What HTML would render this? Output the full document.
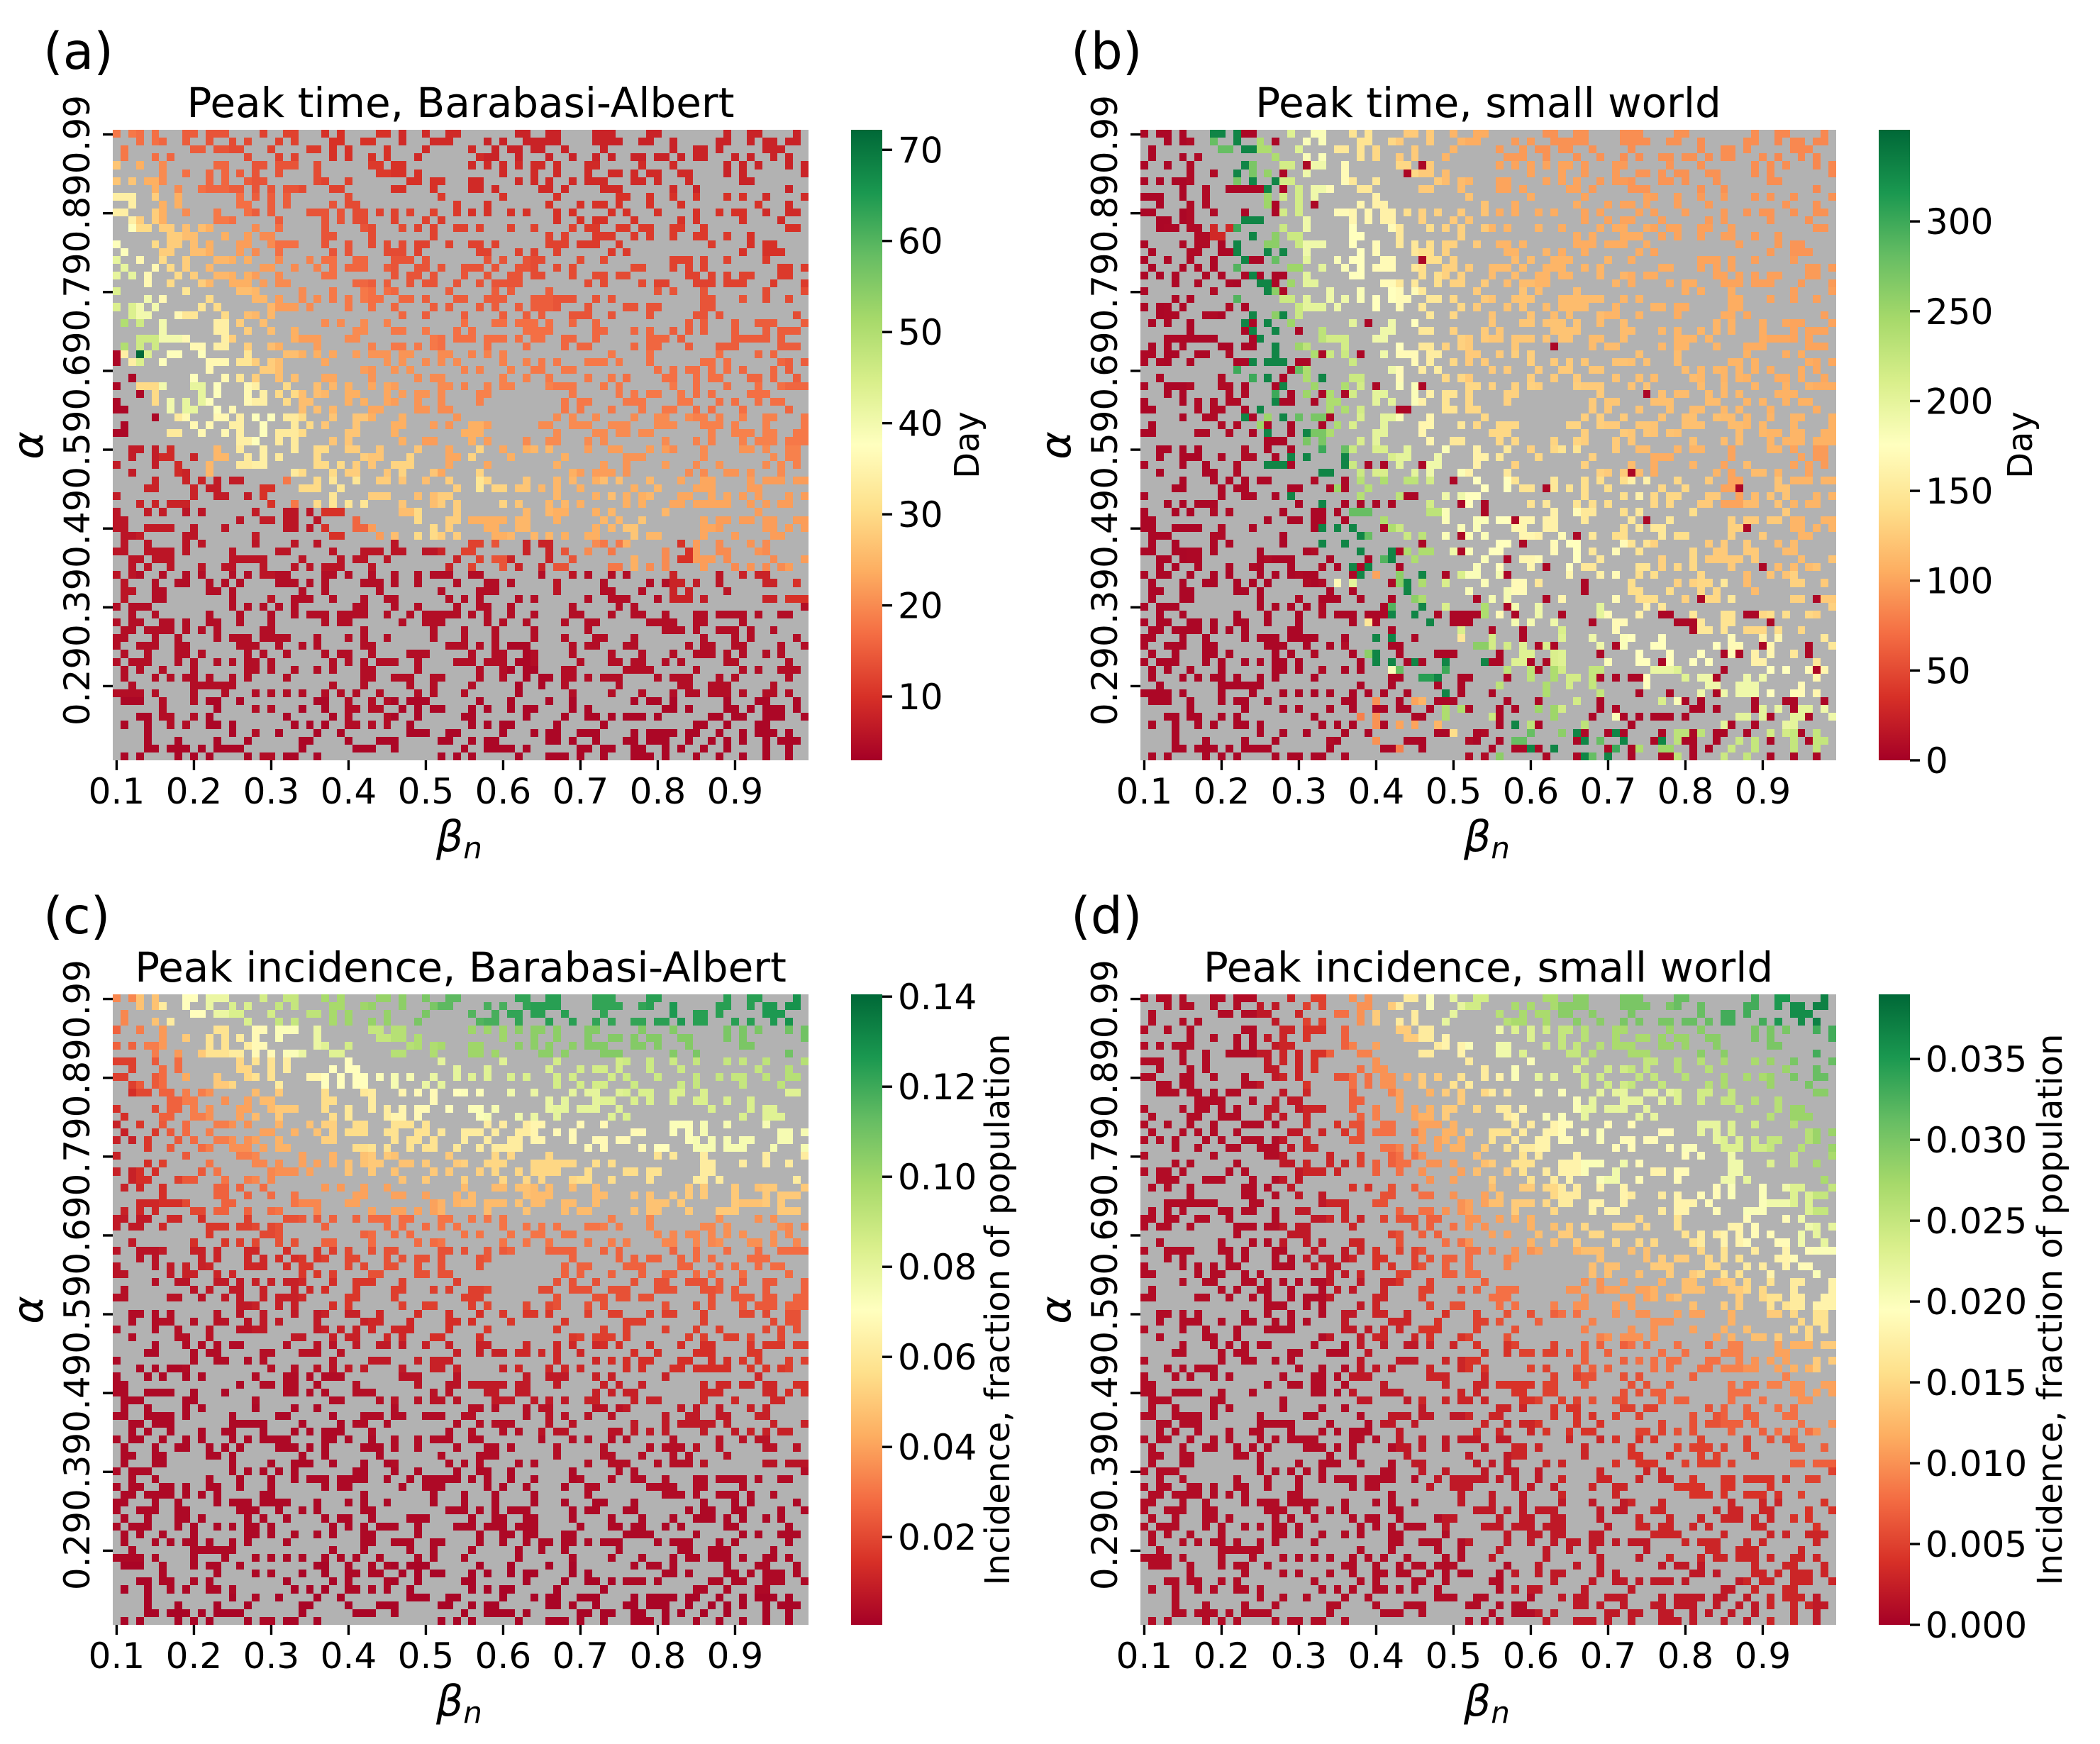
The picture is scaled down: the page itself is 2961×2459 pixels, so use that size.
<!DOCTYPE html>
<html>
<head>
<meta charset="utf-8">
<title>Peak time and peak incidence heatmaps</title>
<style>
html,body{margin:0;padding:0;background:#fff}
svg{display:block}
text{font-family:"DejaVu Sans","Liberation Sans",sans-serif;fill:#000}
</style>
</head>
<body>
<svg id="figure" width="2961" height="2459" viewBox="0 0 2961 2459" xmlns="http://www.w3.org/2000/svg"></svg>
<script>
// Shared grid of simulated parameter pairs: # has a result, . has none (left half | right half)
const resultMask = [
"#.##.#...##.###....#..##...#.#....##.#..#..##|.......##..##....###....##........#..##....#.",
"...#.##..#..#..#.#...#.#....##..##...#...###.|...#.#..#####....####..##..#.....##..#.##.##.",
".#........##.####...#....##.#.#....#....#....|.#..#.##.##..#....#........#..##.#.....###...",
".#...#.#.........#...#.#....#.#..#.#...#.....|..###..#...#..#..#.#..##.##.#.##...#.#..#.#..",
"#..#..#......##...##.###..#......##.##.......|.#.#.#.#.##.#...##.....#...#......#.#.#...#.#",
"......#..#..#.#.#.#..#....#.......####.#.....|.....#...#..#...#..##.#.##..##....#.#.......#",
"#.#.###.....#.#..###......##..#.......##.##..|.##....#.#.#..#.###...##.#...#......##.......",
".....#..#..######.#.#.###...##......##...#...|.##.#.....##.#....###......#..#...........#..",
"###..#..#.......#.#.#.#.......#...........#..|.....#......#.......##..#..#..#...#.#..#....#",
"..#...#.#.......##..#.#.....#.##............#|...#.......#...#.##.#...#...#.........#...#..",
"##...##..#...#...##.#....###.#.##.#.#.#..#..#|.#.#..#.#...#.#....#.#...#....#..#.##..#..##.",
"..##.##......###.....#.....#.#.##...#...#.#..|............#..#.##...#.....#.#.....#....#...",
"..###.##.#.##.....#..#.....#....##...#.#.#..#|#.#...#..#....#.##..##.##..##..#..........##.",
".......####...#..#.##......##....#.......#...|...........#.#...###..#.#..#..##..#..#.......",
"#....#.##.#.#...##..####...#..#..#.#.#.##..#.|.##.#......###.###..#...........#....#.##....",
".#....##..###...#.#..#......#.#....###.#.....|..##...#.#..#......#.#..............#..###...",
"#..#..#..#...###.#...#...#.##..##...###.#....|...#.#..###....#..#........###.#..#....#.....",
".#...#.#.#..#......##..#..#.#.###..##..##.#..|###.#..###..#.#.......##...#.#.#.........##.#",
"#.#.#...#.#..###.##..#.....##.......#.##.#...|#..#..##.##...#..##.##.......##.#.#.##...##..",
"....#..#...##..###.#.##........###.#..#.##..#|..#.####........#.#....#.##...###.###...#...#",
"#........#......###.....#...#...##.##......#.|....#.#....#.............#.#...#.......#....#",
"....#.#.....#.....##.#..#.#.#.#.###..##.#...#|#..###...######..#.#...........##...#..#..#..",
"#.##.#.....#.#......####.#....#..#..#....#.#.|..#.#..#.####...#....##.##.....##............",
"..###...###...#..##.#................#..#....|#....#..#.#...###..#....#.....##.#.........#.",
".#.#..#......##.#..#.......#.#..#..#.........|#...##.###.#..#..#...........#.#...#..###...#",
"......#......##..#..#..#.......##...##..#...#|.#......####.....##...#.#..#.#.#...#...#.###.",
"...#######....##.......####...##.........##.#|##.###.#.##..##..#......###.#......#####.#...",
".#.#.#....##.##..#..##....#......#..##.#.##..|...#....#....#.##.....#.##...#...###.....###.",
"##.##..##..#.....#....###.#.#..#.###.##...##.|.#.#.#.............#....#........#....#.#....",
"#.##..#.....###.###.##.....#.......#.#..#.#.#|.....#..#.#.#...###.#...#......##.#......##.#",
"............#......###..........##..#.#......|#.#...#..##..##..........#.#.##.#.#.#...#.#..",
"..#.......#...#.#.#..#.#...##....#.....#.##..|.....#..#..#....#..#.#....##..#.##...##.#..#.",
"#..####...##.#...##...#...#.#.#..#.##.....##.|#..#.##....####...#.#......#..#...#...#..####",
"...#.#.....#.#...#.#.#.##.##..##...#.#.##.#..|..##..........#.....#.#.##..#.#.#....###.....",
"#....#.#.#.##....###..#.##....#.#..##..#..#..|..#..........#.##....###....##...#.#..#.##...",
"##.....#.##..#.#........#.#.#....##....##.##.|.............#.#...#...#..##..#.#...#.....#..",
".....#..##...##.#.#.#.###...#..###...#......#|............#.#..#....#..##..###.#..#..##...#",
".#........#.#..##..#...#.#.#...#....##...#.#.|.###......##..###..###...###...###.#...#....#",
"##.....##..#..#.#..#.####.....##....#........|###.........#....##.##.##.......#..###.##..##",
"................###..#.#....#.#......#..##...|.#.#....#..##...#.#.......#...#.#...#.###.###",
"..##.#.#.....#..#..#...#..##..##..#....#...#.|..#..#..##.#....#..##...#.##...#....##.#..##.",
"..#..###..#..##..#.#.#....#.....###...#....##|.#....#......#.......###.......#........#.##.",
"#....#..#...#...####......##.#.#.#..###....#.|...#........#.....#..#....#...#..#.....#.#.#.",
"..#.....##..#..........##...#.##...#.#...##..|..#...........##.###.#.......#.#..##.#...#...",
".....#...#.#.#.##.....#...#.#..#..##.#..#..#.|..##....#...#.#..##.#...#...#..##....#.###.##",
"....##....#.##.....##...###..#..............#|..#.##.##.#.#..#......#..#....###....##......",
"#.........#..##..#.#........#....###...#.###.|............#....#.#.#.##...##..#.#.#.#...#.#",
"...#.#.###..........#..#..#.#.#.#....#...##.#|.....#.#...#.#.#.....#.#...##.#####..#.#.##..",
"#...#.#..#.#......#...##.#.###.......###....#|........#..###...#.#......#...........#......",
"##..............#..##.##..#....#.......#...##|.#####.##...#.....#.#..#.......#.##.##.##..##",
"##..####..#...#.......##.#.#...###.......#.#.|...##..##........#.#.##........###.....##.#.#",
".###.....##.......#.........##....#.#..#.##.#|....###..#.#.#..##....#.##.....#...#....##...",
".#..#....#.#......#....#..#.........#........|.##.#...#.##.....##.##......#.#..#...#.#.....",
"##..####.#.....#.....##.....#...###.##..###..|##......#..#.#..#..#......#..##..##...##.....",
"..##.###.......#####....#....#.##..#........#|..#.###....#..#.......#...#.#####.#.....#...#",
"..#.#..#...#..##...#...#.#.###...#.........#.|.#...#.#..#.##.....##.#.#.#....#...#.#.#.##..",
"#.##..#..#.#...#.#.####....##.#..#..#..#.###.|.##.......#...#.#..#.#.....#.....#..#.##.....",
".#...#..##..#.#.#....###.#.#....###.#..#....#|...##.#.....#.....#.....#.###.#..#.....##..#.",
".##..##.....##.#........#..#......#.......#..|..###.......#.....##...#...#.#....#..........",
".#...##........#....#..###..#...#..##......#.|#.#....#.#......#..###...#.###.#.......##.###",
"#.###..........#.#.#.#.#.......##...#..#....#|..##..#.......#.....#.#.....................#",
"..#..#......#...#...#..#.###.####..#..#.#####|.#.#..#..#....##...#..##..#...##.####.#..##..",
"#.##..##.#..##..#...#......#.##......#..###..|...#.#..#....#..##......####..##....#........",
".##.####.#.#.#.....##...........#........#...|#...#....#......#.........###.#..###.#..#....",
"##...#..#....#.###.####...#...#.#..#.....#...|#...#....#...#...##...#........#...#.#.....#.",
"#..###..##......###..#..#.#.....##.........##|#.#.#.###.....#.##...##......#.##..##....#..#",
".#..#...##.#.....#.#..#....#.##..#....###....|.#..##..##....#....#...#...#..###.#.#..#.#...",
"#.###...#.#..#.#.##.#.......#.#.#.###..#....#|##.###.###.....#...##.##..#.#.....##......#..",
".#.#..#...#......##.#..#..#.#...##.....#.....|..#..##.##...##......####.....#.....#.#..###.",
".#...#.#.##.#..#.#....#.........##..###..##..|..#..#..#.##.##.#.###....#.###...#.#......#..",
"..#.......######............#...#.....#..#...|.#.....#..#..#......#.......##..###.....#....",
"####.#....#...#...#.#.#.#..#.#.#..#....#.#...|#......#......#....#...#...#.##.###.#..##.#..",
".###..#...#.##..#.........##..#..#.##.###....|..#...#....#..#.......#.##.#......#...##...#.",
"......#......#....#.#...#..#..##.##..#.#.##..|.#.#..#.##....#.#.........##.#....##.#.###.#.",
"...##.##..#.#.........#.....#.#....##..#.....|##......#....#..##.#.###.#......##.##..###..#",
".#..#..#.#..##.#.......#.#.#..##.#.#..#......|.#.#.##.....#.....#...........##..#...##.....",
"....#..........#..#..#....#..#........###..##|.....#...#.##..###....#.####.##..#..#.###.#..",
"....#...#....#...#......##....#...###.....##.|.#.##......##.#..#...##.###..#..#.#.#..#.###.",
"....##.###.#.####.......#......###..#........|#..####.#......##.##..##..#.#..#..#....#..#..",
".#.#....#.#.#....#.##.##..#...............#.#|.#.....#...###.#..#...###.#...#..#..#..#..#.."
];

// Axis tick labels
const alphaTicks = ["0.99","0.89","0.79","0.69","0.59","0.49","0.39","0.29"];
const betaTicks = ["0.1","0.2","0.3","0.4","0.5","0.6","0.7","0.8","0.9"];
const peakTimeBaTicks = [10,20,30,40,50,60,70];
const peakTimeSwTicks = [0,50,100,150,200,250,300];
const incidenceBaTicks = [20,40,60,80,100,120,140];   // per mille of population
const incidenceSwTicks = [0,5,10,15,20,25,30,35];     // per mille of population

// Regional readings, one row per 4 alpha rows, one value per 3 beta columns
// (a) peak time, Barabasi-Albert, days
const peakTimeBa = [
[18,17,16,15,14,13,12,12,11,10,10,10,9,9,9,9,8,8,8,8,8,8,8,8,8,8,8,8,8,8],
[27,24,20,17,16,15,14,14,13,12,12,11,10,10,10,9,9,9,9,9,9,9,9,9,9,8,8,8,8,8],
[34,28,24,20,18,17,15,15,14,14,13,12,12,12,11,10,10,10,10,10,10,10,10,10,10,10,10,10,9,9],
[38,30,28,26,24,22,20,17,15,14,14,13,13,12,12,12,12,12,12,12,11,11,11,11,11,11,11,10,10,10],
[42,36,30,28,25,24,22,20,19,17,16,15,14,14,14,14,14,14,13,13,13,13,13,12,12,12,12,12,11,11],
[44,40,36,32,30,26,25,22,20,18,18,17,16,15,15,15,15,15,15,14,14,14,14,14,14,14,14,14,13,13],
[50,46,40,36,34,28,26,24,22,20,20,19,18,18,17,17,17,17,17,16,16,16,16,16,15,15,15,15,15,15],
[34,44,38,38,36,32,28,26,24,23,22,21,21,20,20,19,19,19,18,18,18,18,17,17,17,17,17,16,16,15],
[40,30,40,42,38,36,34,30,26,25,24,23,22,21,20,19,19,19,19,18,18,18,18,18,18,17,17,17,17,16],
[30,30,33,36,36,34,38,33,30,27,27,24,24,22,21,24,22,20,20,20,20,20,20,20,20,19,19,19,19,18],
[7,7,9,8,25,33,34,33,30,30,28,27,29,27,23,29,23,24,25,24,22,22,21,22,20,20,21,21,20,19],
[7,8,8,8,7,7,10,18,30,32,32,28,27,26,28,32,29,27,25,25,24,26,24,25,23,23,23,22,22,22],
[6,7,7,6,6,6,7,6,6,10,16,22,26,30,28,24,24,25,25,24,24,25,27,25,24,23,22,22,22,22],
[6,6,6,6,6,6,6,6,6,6,6,6,6,6,8,12,14,8,8,14,20,18,24,20,10,22,20,21,20,22],
[6,5,5,5,5,5,6,5,5,5,5,5,5,5,5,5,5,5,5,6,5,5,5,5,8,7,6,8,8,10],
[5,5,5,5,5,5,5,5,5,5,5,5,5,5,5,5,5,5,5,5,5,5,5,5,5,5,5,5,5,5],
[5,5,5,5,5,5,5,5,5,5,5,5,5,5,5,5,5,4,5,5,5,5,5,5,5,5,5,5,5,5],
[5,5,5,5,5,5,5,5,5,5,5,5,5,5,5,5,5,4,4,5,5,5,5,5,5,5,5,5,5,5],
[4,4,5,5,4,4,5,4,4,4,5,5,4,4,4,4,4,4,4,4,4,4,4,4,4,4,4,4,4,4],
[4,4,4,4,4,4,5,4,4,4,4,4,4,4,4,4,4,4,4,4,4,4,4,4,4,4,4,4,4,4]
];
const peakTimeBaLowCells = {28:[0],29:[0],31:[2],32:[0],33:[3],34:[0],35:[0,1],36:[5],37:[1],38:[0,1]};
const peakTimeBaHighCells = {28:[3]};
const peakTimeBaLow = 4;
const peakTimeBaHigh = 72;

// (b) peak time, small world, days
const peakTimeSw = [
[5,5,8,280,270,240,205,180,150,145,135,125,125,110,105,95,95,90,90,90,88,88,90,90,88,88,88,85,85,85],
[5,5,8,8,270,255,215,190,170,150,150,135,125,115,110,100,100,100,100,95,95,92,92,90,90,90,88,88,88,85],
[5,5,8,8,290,250,215,190,170,165,160,140,130,125,120,105,105,105,105,100,100,100,98,98,95,95,92,92,90,90],
[5,6,8,30,300,260,220,190,180,175,170,150,140,130,125,110,110,110,105,105,105,105,100,100,98,98,95,95,92,92],
[5,6,7,6,290,280,250,200,180,175,170,150,140,130,125,115,115,110,110,110,110,105,105,105,100,100,98,98,95,95],
[5,6,6,8,290,260,220,200,190,180,175,170,150,135,125,120,120,115,115,115,110,110,110,105,105,105,102,100,98,98],
[5,6,5,5,300,280,250,230,215,200,190,175,150,130,125,122,122,120,120,115,115,115,112,110,110,108,105,102,100,100],
[6,5,6,8,300,320,280,240,220,220,190,170,155,135,125,125,128,125,125,122,120,118,115,115,112,110,108,105,105,102],
[5,5,8,8,8,300,280,250,240,215,200,180,160,145,135,130,130,128,128,125,122,120,118,115,115,112,110,108,108,105],
[5,5,7,8,8,250,280,270,240,210,200,180,165,150,135,135,135,132,132,128,125,122,120,118,118,115,112,110,110,108],
[5,5,5,6,8,8,300,300,280,220,210,200,190,180,160,150,130,135,145,130,125,115,105,110,110,100,115,110,100,95],
[5,5,5,6,6,6,7,8,250,235,240,230,215,190,175,175,145,150,145,140,140,160,135,135,125,100,115,120,110,110],
[5,5,5,8,6,6,7,8,280,280,240,220,230,180,180,175,165,160,170,150,140,150,150,140,140,130,125,125,110,110],
[5,5,6,6,7,8,8,8,150,300,290,240,240,190,180,175,165,170,175,150,170,145,130,135,125,125,125,115,115,120],
[5,5,5,5,5,6,7,8,170,200,100,260,240,210,180,185,170,150,165,160,170,140,140,130,135,150,115,120,130,125],
[5,5,5,5,5,6,6,8,120,150,290,290,290,210,240,170,185,190,210,200,170,160,150,150,150,145,135,140,135,130],
[5,5,5,5,5,6,6,8,10,260,330,230,280,150,260,215,205,210,205,190,180,175,175,175,175,170,160,165,150,150],
[5,5,5,5,5,5,6,8,10,8,180,280,310,300,8,230,230,240,215,225,195,175,195,205,190,190,190,175,170,165],
[5,5,5,5,5,5,6,8,70,80,90,100,110,240,8,220,230,250,215,230,180,230,210,180,190,200,200,195,200,190],
[5,5,5,5,5,5,6,8,8,8,90,80,8,140,8,260,280,270,260,280,300,240,250,230,230,220,225,215,225,225]
];
const peakTimeSwLowCells = {0:[13,14],1:[17],4:[21,36],5:[18,34],7:[11,12,13,14,15,18],9:[17,22],10:[13,17],14:[10],15:[10,11],16:[14,15,36],18:[13,15,17,18],19:[12,17],20:[18],22:[13],23:[10],24:[14,29],25:[13,20],26:[14],27:[13,14,53],28:[23,28],29:[12,13,20,21],30:[19],31:[18],32:[13,17,30,36],33:[19,23,26,65],34:[18,19,22],35:[13,33,34],36:[14,24],37:[16,19,23],38:[14,19],39:[16,17,18],40:[16,19],41:[17],42:[19,29,31,36],43:[63],44:[26,40],45:[19,20,24,26,52,77],46:[17,34,35],47:[20,26,28,30,32,41,44],48:[18,22,23,25,44],49:[16,19,20,22,23,26,48,65],50:[22,23,31,78],51:[18,28,41,56],52:[18,36,49],53:[15,21,33,41],54:[15,17,18,19,24,29,47],55:[15,19,25,28,33,52,80],56:[15,17,19,21,22,27,39,47],57:[16,22,32,57],58:[15,24,27,57],59:[15,23,24,25,28,32,43,52,72,87],60:[15,17,21,31,47],61:[20,25,26,27,29,30,31,38,40,41,42,43,48,54,67,68,78,79],62:[16,20,27,30,40,41,42,58,69,70,71,81],63:[19,20,32,45,49,71],64:[15,16,17,19,20,21,22,26,35,49],65:[16,17,18,21,24,32,33,51,53,61,80,86],66:[17,19,27,33,38,39,40,46,59,75,77,86],67:[17,18,20,28,34,36,45,46,50,52,67],68:[17,18,20,26,28,51,75,87],69:[15,17,22,32,33,41,42,47,59,61,63,64,74],70:[15,28,32,38,41],71:[18,20,22,24,27,29,31,34,41,45,64,68,74],72:[16,26,27,33,38,39,40,47,51,59,70,72,79,83,84,88],73:[18,24,27,30,31,33,34,37,42,46,48,59,61,71,72,74,79,84],74:[22,35,36,46,58,62,64,66,67,68,70,81,86],75:[15,23,25,27,31,46,51,63,76,79],76:[18,21,26,29,38,39,43,57,60,62,67,71,74,75,78,85],77:[17,25,34,35,36,43,46,56,66,70,71,74,81,86],78:[24,31,32,36,45,48,49,51,60,63,71,73],79:[17,19,20,22,23,26,52,56,63,67,68,71,81,84,87]};
const peakTimeSwHighCells = {0:[9,10,12],1:[12],2:[13,14],4:[13],5:[12],6:[14,17],7:[16],11:[13,14,15],13:[14],14:[12],15:[12,16,18],16:[13],18:[14],19:[15,16],20:[16],23:[14,18],24:[13,16],25:[14,17],26:[15],27:[17],28:[17],29:[14,16,17,18],31:[16,23],32:[18],34:[17],35:[15],36:[13,18],38:[16,21],41:[19,21,26],42:[16,17,18,26],43:[23,24],46:[19],47:[23],50:[23,25,27],51:[28],52:[23,26],53:[28,32],54:[32],55:[27,29],56:[28,36],57:[34],58:[34],60:[36],61:[32,35],62:[37],64:[30,32],67:[32,35,39,44],69:[38],71:[39],75:[48],76:[56,61],77:[57,62,67],78:[50,53],79:[57,60]};
const peakTimeSwLow = 5;
const peakTimeSwHigh = 330;

// (c) peak incidence, Barabasi-Albert, per mille of population
const incidenceBa = [
[34,48,62,70,78,84,86,90,92,98,100,102,104,108,114,116,118,122,124,124,122,122,122,124,126,124,124,124,126,128],
[26,32,38,50,58,62,68,72,78,82,86,90,94,96,98,100,100,104,104,104,106,106,106,106,106,108,108,108,110,110],
[18,24,28,42,50,54,58,62,66,70,70,72,74,78,80,82,82,84,84,86,86,86,88,88,88,90,90,90,92,94],
[14,20,26,32,36,40,46,50,54,56,60,62,66,68,70,72,74,76,78,80,80,82,84,84,84,84,84,84,82,82],
[10,16,24,28,32,36,40,44,48,52,56,58,58,58,60,62,62,62,66,68,68,68,68,70,72,74,74,74,74,74],
[10,14,18,24,30,32,34,36,40,44,48,50,48,50,50,52,54,54,54,54,56,56,56,58,60,62,62,62,62,62],
[10,12,14,20,26,26,28,30,34,38,40,40,40,40,44,46,46,48,46,46,46,46,48,48,50,50,50,48,50,50],
[8,8,12,14,16,18,20,22,24,26,26,28,28,28,30,30,30,30,30,30,30,32,32,34,34,34,36,36,36,34],
[6,6,8,10,11,12,12,14,16,18,20,22,22,22,22,22,24,26,26,26,26,26,26,26,26,28,28,28,28,28],
[5,5,6,6,8,8,10,10,12,14,16,16,18,18,18,18,20,20,20,22,22,22,22,22,22,22,24,24,24,26],
[4,4,5,5,6,6,8,8,8,10,10,12,12,14,14,14,16,16,16,16,18,18,18,18,18,18,18,20,20,22],
[3,3,3,4,4,4,5,5,6,6,8,8,8,10,10,10,10,12,12,12,12,14,14,14,14,14,14,16,16,18],
[3,3,3,3,3,3,4,4,4,4,5,5,6,6,6,8,8,8,8,8,10,10,10,10,10,12,12,12,12,14],
[3,3,3,3,3,3,3,3,3,3,4,4,4,4,4,5,5,5,6,6,6,6,8,8,8,8,8,10,10,10],
[3,3,3,3,3,3,3,3,3,3,3,3,4,4,4,4,4,4,4,5,5,5,5,5,5,6,6,6,6,6],
[3,3,3,3,3,3,3,3,3,3,3,3,3,3,3,3,3,3,3,3,4,4,4,4,4,4,4,4,4,4],
[3,3,3,3,3,3,3,3,3,3,3,3,3,3,3,3,3,3,3,3,3,3,3,3,3,3,3,3,3,3],
[3,3,3,3,3,3,3,3,3,3,3,3,3,3,3,3,3,3,3,3,3,3,3,3,3,3,3,3,3,3],
[2,2,3,3,3,3,3,2,2,2,3,3,2,2,2,2,2,2,2,2,2,2,3,3,3,3,3,3,3,3],
[2,2,2,2,2,2,3,2,2,2,2,2,2,2,2,2,2,2,2,2,2,2,2,2,2,2,2,2,2,2]
];

// (d) peak incidence, small world, per mille of population
const incidenceSw = [
[1,1,1,1,1,2,3,5,8,10,14,17,20,22,24,26,27,27,29,29,30,30,30,31,31,33,33,35,36,37],
[1,1,1,1,1,2,3,4,7,9,11,14,17,18,20,21,23,24,25,26,27,27,28,28,29,29,30,30,32,33],
[1,1,1,1,1,2,3,4,6,8,10,12,14,16,17,18,20,22,23,24,24,25,25,26,26,27,27,28,30,31],
[1,1,1,1,1,2,2,3,5,7,9,11,12,14,15,17,18,20,20,22,22,22,22,23,24,25,26,26,28,29],
[1,1,1,1,1,1,2,3,4,6,8,9,11,12,14,16,17,18,19,20,19,19,19,20,22,23,24,25,26,28],
[1,1,1,1,1,1,2,3,3,5,7,8,10,11,13,14,16,17,18,20,21,19,18,19,20,21,22,23,25,27],
[1,1,1,1,1,1,2,2,3,4,6,7,8,10,11,13,14,15,17,18,18,17,17,18,19,20,20,21,23,25],
[1,1,1,1,1,1,2,2,3,3,5,6,7,8,10,11,12,13,14,15,15,15,15,16,17,18,19,19,21,22],
[1,1,1,1,1,1,1,2,2,3,4,5,6,7,8,9,10,11,12,13,13,13,14,14,15,16,17,18,19,20],
[1,1,1,1,1,1,1,1,2,2,3,4,5,6,7,8,8,9,10,10,11,11,12,13,13,14,15,16,17,18],
[1,1,1,1,1,1,1,1,2,2,3,3,4,4,5,6,6,7,8,9,10,10,10,11,11,12,13,14,15,16],
[1,1,1,1,1,1,1,1,1,2,2,2,3,3,4,4,5,5,6,7,7,8,8,8,8,9,10,11,12,14],
[1,1,1,1,1,1,1,1,1,2,2,2,3,3,3,4,4,5,5,6,6,6,7,7,7,8,8,9,10,11],
[1,1,1,1,1,1,1,1,1,1,2,2,2,2,3,3,3,4,4,4,5,5,5,6,6,7,7,8,8,10],
[1,1,1,1,1,1,1,1,1,1,1,2,2,2,2,2,3,3,3,3,4,4,4,5,5,5,5,6,7,7],
[1,1,1,1,1,1,1,1,1,1,1,1,2,2,2,2,2,2,3,3,3,3,3,4,4,4,4,4,5,5],
[1,1,1,1,1,1,1,1,1,1,1,1,1,2,2,2,2,2,2,2,2,3,3,3,3,3,3,3,4,4],
[1,1,1,1,1,1,1,1,1,1,1,1,1,1,2,2,2,2,2,2,2,2,3,3,3,3,3,3,3,3],
[1,1,1,1,1,1,1,1,1,1,1,1,1,1,1,1,2,2,2,2,2,2,2,2,2,2,3,3,3,3],
[1,1,1,1,1,1,1,1,1,1,1,1,1,1,1,1,1,2,2,2,2,2,2,2,2,2,2,3,3,2]
];

const NS = 'http://www.w3.org/2000/svg';
const svg = document.getElementById('figure');
const ROWS = 80, COLS = 90, ROW_BLOCK = 4, COL_BLOCK = 3;
const MISSING_GREY = '#b2b2b2';
const RDYLGN = ['#a50026','#d73027','#f46d43','#fdae61','#fee08b','#ffffbf','#d9ef8b','#a6d96a','#66bd63','#1a9850','#006837'];

function rdYlGn(t) {
  const c = Math.max(0, Math.min(1, t)) * (RDYLGN.length - 1);
  const i = Math.min(RDYLGN.length - 2, Math.floor(c));
  const f = c - i;
  const a = parseInt(RDYLGN[i].slice(1), 16);
  const b = parseInt(RDYLGN[i + 1].slice(1), 16);
  const mix = function (shift) {
    const p = (a >> shift) & 255;
    const q = (b >> shift) & 255;
    return Math.round(p + (q - p) * f);
  };
  return 'rgb(' + mix(16) + ',' + mix(8) + ',' + mix(0) + ')';
}

function addText(parent, name, str, x, y, size, opts) {
  const o = opts || {};
  const el = document.createElementNS(NS, 'text');
  
  
  el.setAttribute('x', x);
  el.setAttribute('y', y);
  el.setAttribute('font-size', size);
  if (o.anchor) el.setAttribute('text-anchor', o.anchor);
  if (o.italic) el.setAttribute('font-style', 'italic');
  if (o.rotate) el.setAttribute('transform', 'rotate(-90 ' + x + ' ' + y + ')');
  el.textContent = str;
  parent.appendChild(el);
  return el;
}

function addTick(parent, name, x1, y1, x2, y2) {
  const el = document.createElementNS(NS, 'line');
  
  
  el.setAttribute('x1', x1);
  el.setAttribute('y1', y1);
  el.setAttribute('x2', x2);
  el.setAttribute('y2', y2);
  el.setAttribute('stroke', '#000');
  el.setAttribute('stroke-width', 3.4);
  parent.appendChild(el);
}

function inList(cells, r, c) {
  return !!(cells && cells[r] && cells[r].indexOf(c) >= 0);
}

function drawPanel(p) {
  const g = document.createElementNS(NS, 'g');
  
  
  svg.appendChild(g);

  const left = p.left, top = p.top, W = 981, H = 889;
  const right = left + W, bottom = top + H;
  const colX = function (c) { return left + c * W / COLS; };
  const rowY = function (r) { return top + r * H / ROWS; };
  const norm = function (v) { return (v - p.vmin) / (p.vmax - p.vmin); };
  const cbLeft = left + 1041, cbRight = cbLeft + 44;
  const cbY = function (v) { return bottom - norm(v) * H; };

  addText(g, 'panel-label', p.label, left - 98, top - 86, 71);
  addText(g, 'panel-title', p.title, left + W / 2, top - 18, 58, {anchor: 'middle'});

  const bg = document.createElementNS(NS, 'rect');
  
  
  bg.setAttribute('x', left);
  bg.setAttribute('y', top);
  bg.setAttribute('width', W);
  bg.setAttribute('height', H);
  bg.setAttribute('fill', MISSING_GREY);
  g.appendChild(bg);

  const cellsG = document.createElementNS(NS, 'g');
  
  
  cellsG.setAttribute('shape-rendering', 'crispEdges');
  g.appendChild(cellsG);

  resultMask.forEach(function (line, r) {
    const halves = line.split('|');
    const row = halves[0].padEnd(COLS / 2, '.').slice(0, COLS / 2) + (halves[1] || '').padEnd(COLS / 2, '.').slice(0, COLS / 2);
    for (let c = 0; c < COLS; c++) {
      if (row[c] !== '#') continue;
      let v = p.values[Math.floor(r / ROW_BLOCK)][Math.floor(c / COL_BLOCK)];
      if (inList(p.lowCells, r, c)) v = p.lowValue;
      if (inList(p.highCells, r, c)) v = p.highValue;
      const x0 = Math.round(colX(c)), x1 = Math.round(colX(c + 1));
      const y0 = Math.round(rowY(r)), y1 = Math.round(rowY(r + 1));
      const cell = document.createElementNS(NS, 'rect');
      
      
      cell.setAttribute('x', x0);
      cell.setAttribute('y', y0);
      cell.setAttribute('width', x1 - x0);
      cell.setAttribute('height', y1 - y0);
      cell.setAttribute('fill', rdYlGn(norm(v)));
      cellsG.appendChild(cell);
    }
  });

  // x axis
  betaTicks.forEach(function (label, i) {
    const x = colX(i * 10 + 0.5);
    addTick(g, 'x-tick', x, bottom, x, bottom + 14);
    addText(g, 'x-tick-label', label, x, bottom + 61, 50, {anchor: 'middle'});
  });
  const xl = addText(g, 'x-axis-title', '\u03B2', left + 456, bottom + 128, 60, {italic: true});
  const sub = document.createElementNS(NS, 'tspan');
  
  
  sub.setAttribute('font-size', 42);
  sub.setAttribute('dy', 10);
  sub.textContent = 'n';
  xl.appendChild(sub);

  // y axis
  alphaTicks.forEach(function (label, i) {
    const y = rowY(i * 10 + 0.5) + 1;
    addTick(g, 'y-tick', left - 14, y, left, y);
    addText(g, 'y-tick-label', label, left - 33, y, 50, {anchor: 'middle', rotate: true});
  });
  addText(g, 'y-axis-title', '\u03B1', left - 99, top + 445, 60, {anchor: 'middle', italic: true, rotate: true});

  // colour bar
  const gradId = 'cb-' + p.name;
  const grad = document.createElementNS(NS, 'linearGradient');
  grad.setAttribute('id', gradId);
  grad.setAttribute('x1', '0');
  grad.setAttribute('y1', '1');
  grad.setAttribute('x2', '0');
  grad.setAttribute('y2', '0');
  RDYLGN.forEach(function (col, i) {
    const st = document.createElementNS(NS, 'stop');
    st.setAttribute('offset', i / (RDYLGN.length - 1));
    st.setAttribute('stop-color', col);
    grad.appendChild(st);
  });
  g.appendChild(grad);
  const bar = document.createElementNS(NS, 'rect');
  
  
  bar.setAttribute('x', cbLeft);
  bar.setAttribute('y', top);
  bar.setAttribute('width', cbRight - cbLeft);
  bar.setAttribute('height', H);
  bar.setAttribute('fill', 'url(#' + gradId + ')');
  g.appendChild(bar);
  p.ticks.forEach(function (v) {
    const y = cbY(v);
    addTick(g, 'colorbar-tick', cbRight, y, cbRight + 14, y);
    addText(g, 'colorbar-tick-label', p.format(v), cbRight + 22, y + 18, 50);
  });
  addText(g, 'colorbar-title', p.cbTitle, left + p.cbTitleX, top + H / 2, 48, {anchor: 'middle', rotate: true});
}

const asInteger = function (v) { return String(v); };
const asFraction2 = function (v) { return (v / 1000).toFixed(2); };
const asFraction3 = function (v) { return (v / 1000).toFixed(3); };

drawPanel({name: 'panel-a', label: '(a)', title: 'Peak time, Barabasi-Albert', left: 159, top: 183,
  values: peakTimeBa, vmin: 3, vmax: 72.2, ticks: peakTimeBaTicks, format: asInteger,
  lowCells: peakTimeBaLowCells, highCells: peakTimeBaHighCells, lowValue: peakTimeBaLow, highValue: peakTimeBaHigh,
  cbTitle: 'Day', cbTitleX: 1221});
drawPanel({name: 'panel-b', label: '(b)', title: 'Peak time, small world', left: 1608, top: 183,
  values: peakTimeSw, vmin: 0, vmax: 351, ticks: peakTimeSwTicks, format: asInteger,
  lowCells: peakTimeSwLowCells, highCells: peakTimeSwHighCells, lowValue: peakTimeSwLow, highValue: peakTimeSwHigh,
  cbTitle: 'Day', cbTitleX: 1257});
drawPanel({name: 'panel-c', label: '(c)', title: 'Peak incidence, Barabasi-Albert', left: 159, top: 1402,
  values: incidenceBa, vmin: 0.5, vmax: 140.5, ticks: incidenceBaTicks, format: asFraction2,
  cbTitle: 'Incidence, fraction of population', cbTitleX: 1264});
drawPanel({name: 'panel-d', label: '(d)', title: 'Peak incidence, small world', left: 1608, top: 1402,
  values: incidenceSw, vmin: 0, vmax: 39, ticks: incidenceSwTicks, format: asFraction3,
  cbTitle: 'Incidence, fraction of population', cbTitleX: 1299});
</script>
</body>
</html>
